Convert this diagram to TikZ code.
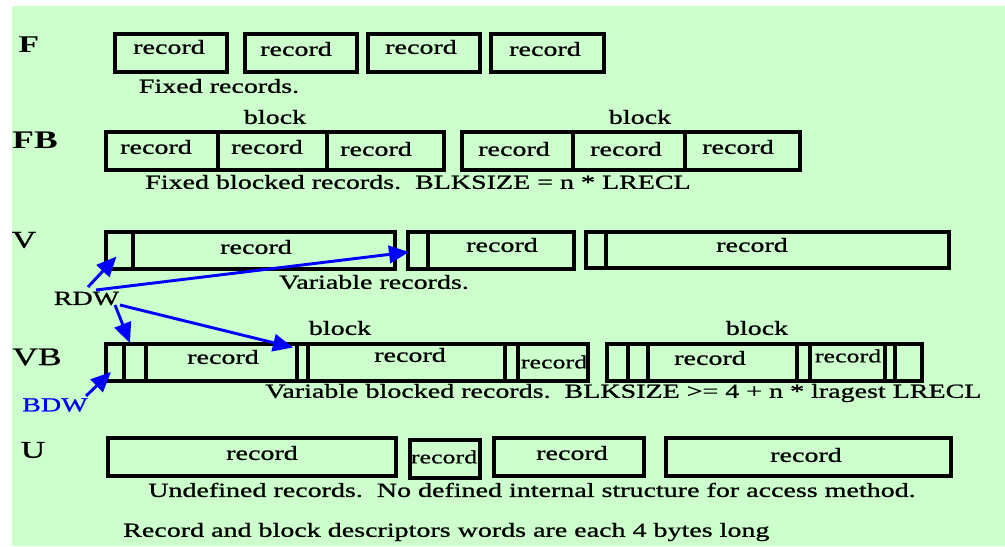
\documentclass[tikz,border=0pt]{standalone}
\usepackage{fontspec}
\setmainfont{Liberation Serif}[FakeStretch=1.4, UprightFeatures={FakeBold=1}]
\usetikzlibrary{arrows.meta,fit}
\definecolor{bggreen}{HTML}{CCFFCC}
\newcommand\cellbox[5]{\node[cell, fit={(#2,#3) (#4,#5)}] (#1) {};}
\begin{document}
\begin{tikzpicture}[x=0.75pt,y=-0.75pt,
  cell/.style={draw=black, line width=3pt, inner sep=0pt},
  txt/.style={font=\fontsize{15}{18}\selectfont, inner sep=0pt},
  smalltxt/.style={font=\fontsize{13.9}{16}\selectfont, inner sep=0pt},
  boldlab/.style={font=\fontsize{#1}{20}\selectfont\bfseries, inner sep=0pt},
  lab/.style={font=\fontsize{#1}{20}\selectfont, inner sep=0pt},
  ptr/.style={draw=blue, line width=2.2pt, -{Triangle[length=15pt,width=13pt]}}]
% canvas
\useasboundingbox (0,0) rectangle (1005,546);
\fill[white] (0,0) rectangle (1005,546);
\fill[bggreen] (12,6) rectangle (1005,546);

% ---- F : fixed records
\node[boldlab=18] (lF) at (29,45) {F};
\cellbox{f1}{115}{34}{227}{72}
\cellbox{f2}{245}{34}{357}{72}
\cellbox{f3}{368}{34}{480}{72}
\cellbox{f4}{491}{34}{604}{72}
\node[txt] at (169,47) {record};
\node[txt] at (296,49) {record};
\node[txt] at (421,47) {record};
\node[txt] at (545,49) {record};
\node[txt] (capF) at (219,86) {Fixed records.};

% ---- FB : fixed blocked records
\node[txt] (blkFB1) at (275,117) {block};
\node[txt] (blkFB2) at (640,117) {block};
\node[boldlab=19] (lFB) at (35,140) {FB};
\cellbox{fb1}{106}{132}{218}{170}
\cellbox{fb2}{218}{132}{327}{170}
\cellbox{fb3}{327}{132}{444}{170}
\cellbox{fb4}{462}{132}{573}{170}
\cellbox{fb5}{573}{132}{685}{170}
\cellbox{fb6}{685}{132}{800}{170}
\node[txt] at (156,147) {record};
\node[txt] at (267,147) {record};
\node[txt] at (376,149) {record};
\node[txt] at (514,149) {record};
\node[txt] at (626,149) {record};
\node[txt] at (738,147) {record};
\node[txt, anchor=west] (capFB) at (145,182) {Fixed blocked records.~~BLKSIZE = n * LRECL};

% ---- V : variable records
\node[lab=18] (lV) at (24,240) {V};
\cellbox{v1d}{106}{232}{133}{269}
\cellbox{v1r}{133}{232}{395}{269}
\cellbox{v2d}{408}{232}{428}{269}
\cellbox{v2r}{428}{232}{574}{269}
\cellbox{v3d}{586}{232}{606}{268}
\cellbox{v3r}{606}{232}{949}{268}
\node[txt] at (256,247) {record};
\node[txt] at (502,245) {record};
\node[txt] at (752,245) {record};
\node[txt] (capV) at (374,282) {Variable records.};
\node[txt] (rdw) at (86.5,298.5) {RDW};

% ---- VB : variable blocked records
\node[txt] (blkVB1) at (340,328) {block};
\node[txt] (blkVB2) at (757,328) {block};
\node[lab=19] (lVB) at (37,357) {VB};
\cellbox{vb1}{106}{344}{124}{381}
\cellbox{vb2}{124}{344}{146}{381}
\cellbox{vb3}{146}{344}{297}{381}
\cellbox{vb4}{297}{344}{308}{381}
\cellbox{vb5}{308}{344}{505}{381}
\cellbox{vb6}{505}{344}{518}{381}
\cellbox{vb7}{518}{344}{588}{381}
\cellbox{vc1}{607}{344}{628}{381}
\cellbox{vc2}{628}{344}{648}{381}
\cellbox{vc3}{648}{344}{797}{381}
\cellbox{vc4}{797}{344}{810}{381}
\cellbox{vc5}{810}{344}{885}{381}
\cellbox{vc6}{885}{344}{895}{381}
\cellbox{vc7}{895}{344}{922}{381}
\node[txt] at (223,357) {record};
\node[txt] at (410,355) {record};
\node[smalltxt] at (554,362) {record};
\node[txt] at (710,358) {record};
\node[smalltxt] at (848,356) {record};
\node[txt, anchor=west] (capVB) at (265,393) {Variable blocked records.~~BLKSIZE >= 4 + n * lragest LRECL};
\node[txt, text=blue] (bdw) at (55,405) {BDW};

% ---- U : undefined records
\node[lab=18] (lU) at (33,450) {U};
\cellbox{u1}{108}{438}{396}{476}
\cellbox{u2}{410}{440}{480}{478}
\cellbox{u3}{494}{438}{644}{476}
\cellbox{u4}{666}{438}{951}{476}
\node[txt] at (262,453) {record};
\node[smalltxt] at (444,457) {record};
\node[txt] at (572,453) {record};
\node[txt] at (806,455) {record};
\node[txt, anchor=west] (capU) at (148,490) {Undefined records.~~No defined internal structure for access method.};
\node[txt, anchor=west] (note) at (123,532) {Record and block descriptors words are each 4 bytes long};

% ---- descriptor pointers
\coordinate (tV1) at (116.5,256.5);
\coordinate (tV2) at (409,252);
\coordinate (tVB1) at (130,343);
\coordinate (tVB2) at (293,347.5);
\coordinate (tBDW) at (111,372);
\draw[ptr] ([shift={(1.5,-11.5)}]rdw.center) -- (tV1);
\draw[ptr] ([shift={(9.5,-8.5)}]rdw.center) -- (tV2);
\draw[ptr] ([shift={(28.5,6.5)}]rdw.center) -- (tVB1);
\draw[ptr] ([shift={(33.5,6.5)}]rdw.center) -- (tVB2);
\draw[ptr] ([shift={(31,-9)}]bdw.center) -- (tBDW);
\end{tikzpicture}
\end{document}
